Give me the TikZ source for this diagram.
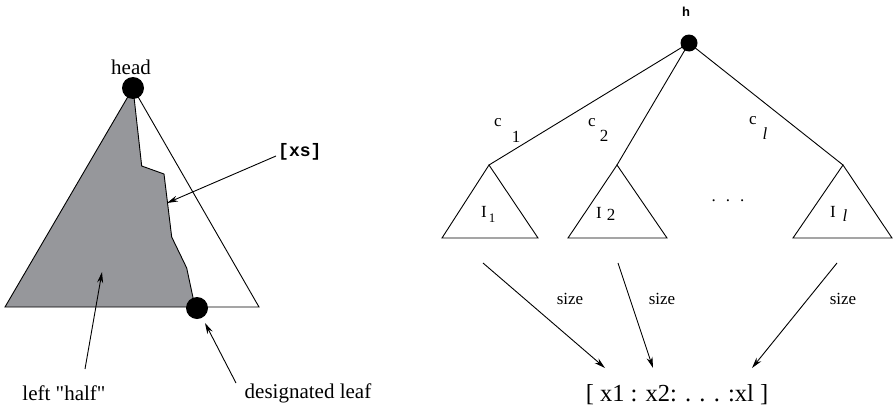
\documentclass[tikz,border=0pt]{standalone}
\usepackage{fontspec}
\setmainfont{Liberation Serif}
\newfontfamily\plainrm{Liberation Serif}
\newfontfamily\monob{Liberation Mono}
\newfontfamily\sansb{Liberation Sans}
\usetikzlibrary{arrows.meta}
\definecolor{halfgray}{RGB}{150,151,155}
\begin{document}
\begin{tikzpicture}[x=1pt,y=-1pt,
  ln/.style={line width=0.9pt, line join=miter},
  arr/.style={line width=0.9pt, -{Stealth[length=11pt,width=6pt]}},
  bigdot/.style={circle, fill=black, inner sep=0pt, minimum size=22pt},
  rootdot/.style={circle, fill=black, inner sep=0pt, minimum size=17pt},
  lbl/.style={inner sep=1pt, font=\fontsize{21}{24}\selectfont},
  sm/.style={inner sep=1pt, font=\fontsize{17}{20}\selectfont},
  sub/.style={inner sep=1pt, font=\fontsize{13}{15}\selectfont},
  big/.style={inner sep=1pt, font=\fontsize{24.5}{28}\selectfont}]
\useasboundingbox (0,0) rectangle (893,407);

% ---------- left picture ----------
\coordinate (A) at (133,88);
\coordinate (BL) at (5,307);
\coordinate (BR) at (259,307);
\coordinate (p1) at (141.7,166);
\coordinate (p2) at (164,174);
\coordinate (p3) at (171.7,237);
\coordinate (p4) at (186.7,268);
\coordinate (p5) at (195,307);
\fill[halfgray] (A) -- (p1) -- (p2) -- (p3) -- (p4) -- (p5) -- (BL) -- cycle;
\draw[ln] (A) -- (p1) -- (p2) -- (p3) -- (p4) -- (p5);
\draw[ln] (A) -- (BL) -- (BR) -- cycle;
\node[bigdot] (head) at (A) {};
\node[bigdot] (leaf) at (197,308) {};
\node[lbl] (headlbl) at (131,67) {head};

\node[inner sep=1pt, font=\monob\bfseries\fontsize{18}{20}\selectfont, anchor=west] (xs) at (277,152) {[xs]};
\coordinate (xstip) at (167,203);
\draw[arr] (xs.west) ++(-1,4) coordinate (xstail) -- (xstip);

\node[lbl, font=\plainrm\fontsize{21}{24}\selectfont] (left) at (64,393) {left "half"};
\coordinate (lefttail) at (85,369);
\coordinate (lefttip) at (102,272);
\draw[arr] (lefttail) -- (lefttip);

\node[lbl] (desig) at (308,393) {designated leaf};
\coordinate (desigtail) at (236,383);
\coordinate (desigtip) at (205,323);
\draw[arr] (desigtail) -- (desigtip);

% ---------- right picture ----------
\coordinate (r) at (689,43);
\coordinate (a1) at (489,165);
\coordinate (a2) at (617,165);
\coordinate (al) at (843,165);
\draw[ln] (r) -- (a1);
\draw[ln] (r) -- (a2);
\draw[ln] (r) -- (al);
\node[rootdot] (root) at (r) {};
\node[inner sep=1pt, font=\sansb\bfseries\fontsize{13}{15}\selectfont] (h) at (686,12) {h};

\draw[ln] (a1) -- (442,238) -- (538,238) -- cycle;
\draw[ln] (a2) -- (568,238) -- (667,238) -- cycle;
\draw[ln] (al) -- (793,238) -- (892,238) -- cycle;

\node[sm] (c1) at (498,123) {c};
\node[sm] (c1s) at (516,137) {1};
\node[sm] (c2) at (592,123) {c};
\node[sm] (c2s) at (604,136) {2};
\node[sm] (cl) at (753,121) {c};
\node[sm] (cls) at (765,134) {\itshape l};

\node[sm] (I1) at (484,212) {I};
\node[sub] (I1s) at (492,218) {1};
\node[sm] (I2) at (599,213) {I};
\node[sm] (I2s) at (611,215) {2};
\node[sm] (Il) at (833,212) {I};
\node[sm] (Ils) at (845,216) {\itshape l};

\node[sm] (dots) at (728,201) {.\hspace{10pt}.\hspace{10pt}.};

\node[big] (list) at (677,395) {[ x1 : x2: . . . :xl ]};
\coordinate (s1tail) at (483,263);
\coordinate (s1tip) at (605,368);
\coordinate (s2tail) at (618,263);
\coordinate (s2tip) at (653,368);
\coordinate (sltail) at (837,263);
\coordinate (sltip) at (752,368);
\draw[arr] (s1tail) -- (s1tip);
\draw[arr] (s2tail) -- (s2tip);
\draw[arr] (sltail) -- (sltip);
\node[sm] (size1) at (570,299) {size};
\node[sm] (size2) at (662,299) {size};
\node[sm] (sizel) at (843,299) {size};
\end{tikzpicture}
\end{document}
